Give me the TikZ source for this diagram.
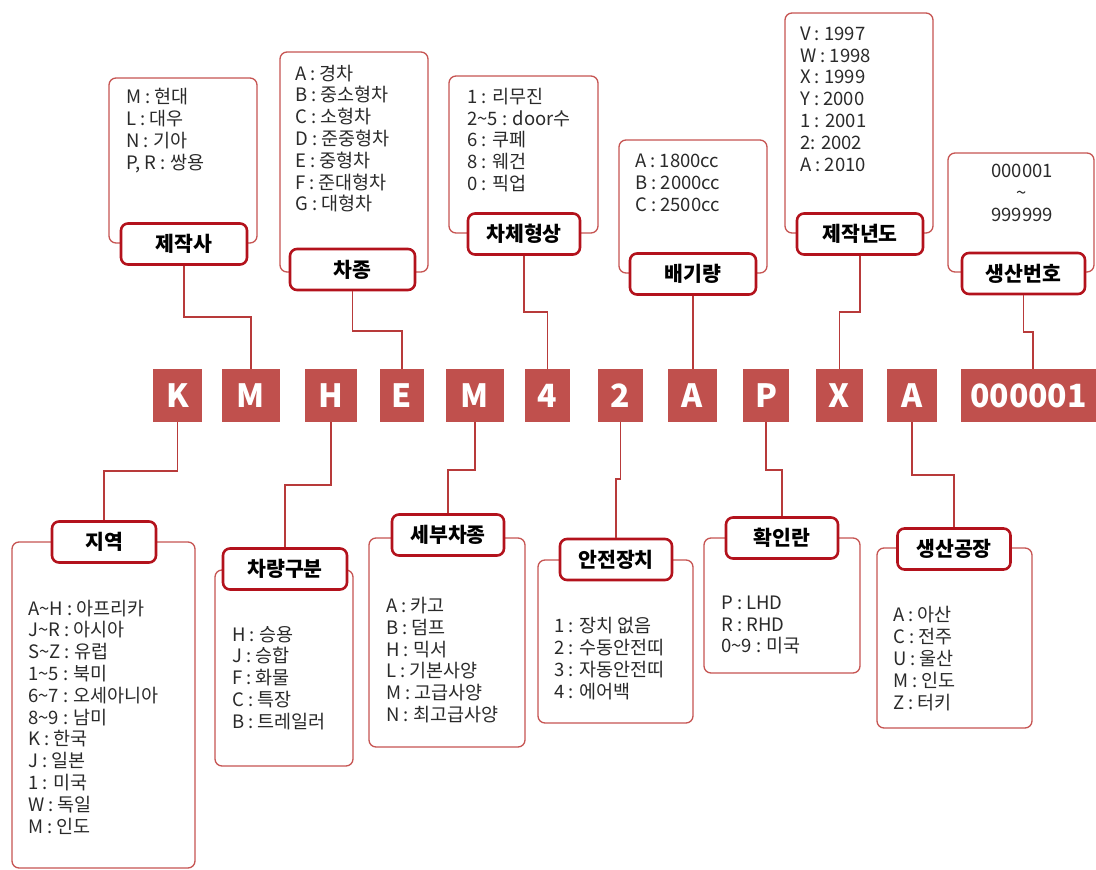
\documentclass[tikz,border=0pt]{standalone}
\usepackage{fontspec}
\setmainfont{Noto Sans CJK KR}
\definecolor{codered}{HTML}{C0504D}
\definecolor{framered}{HTML}{C65452}
\definecolor{labred}{HTML}{B3121C}
\definecolor{connred}{HTML}{B83A3A}
\definecolor{txt}{HTML}{2A2A2A}
\newcommand{\tl}{\textasciitilde}
\begin{document}
\begin{tikzpicture}[x=1pt,y=-1pt,
  code/.style={fill=codered, text=white, font=\bfseries\fontsize{32}{32}\selectfont, inner sep=0pt, minimum height=53pt},
  frame/.style={draw=framered, line width=1.3pt, rounded corners=7pt, inner sep=0pt, fill=white},
  lab/.style={draw=labred, line width=2.6pt, rounded corners=7pt, fill=white, inner sep=0pt, minimum height=41pt, text=black, font=\bfseries\fontsize{20.5}{20.5}\selectfont},
  list/.style={anchor=west, align=left, inner sep=0pt, text=txt, font=\fontsize{18.5}{21.8}\selectfont},
  conn/.style={draw=connred, line width=1.8pt}
]
\useasboundingbox (0,0) rectangle (1096,870);

% ---- top frames ----
\node[frame, minimum width=148pt, minimum height=165pt] (f1) at (183,160.5) {};
\node[frame, minimum width=148pt, minimum height=220pt] (f2) at (354,162) {};
\node[frame, minimum width=149pt, minimum height=157pt] (f3) at (523.5,154.5) {};
\node[frame, minimum width=148pt, minimum height=133pt] (f4) at (693,206.5) {};
\node[frame, minimum width=148pt, minimum height=220pt] (f5) at (859,123) {};
\node[frame, minimum width=146pt, minimum height=119pt] (f6) at (1021,212.5) {};

% ---- bottom frames ----
\node[frame, minimum width=183pt, minimum height=326pt] (g1) at (103.5,705) {};
\node[frame, minimum width=138pt, minimum height=196pt] (g2) at (284,668) {};
\node[frame, minimum width=156pt, minimum height=209pt] (g3) at (447,642.5) {};
\node[frame, minimum width=155pt, minimum height=163pt] (g4) at (615.5,641.5) {};
\node[frame, minimum width=156pt, minimum height=135pt] (g5) at (782,605.5) {};
\node[frame, minimum width=155pt, minimum height=180pt] (g6) at (954.5,638) {};

% ---- list texts (top) ----
\node[list] (t1) at (126,130.5) {M : 현대\\L : 대우\\N : 기아\\P, R : 쌍용};
\node[list] (t2) at (295,138.5) {A : 경차\\B : 중소형차\\C : 소형차\\D : 준중형차\\E : 중형차\\F : 준대형차\\G : 대형차};
\node[list] (t3) at (467,140) {1 : 리무진\\2\tl5 : door수\\6 : 쿠페\\8 : 웨건\\0 : 픽업};
\node[list] (t4) at (635,183) {A : 1800cc\\B : 2000cc\\C : 2500cc};
\node[list] (t5) at (800,99) {V : 1997\\W : 1998\\X : 1999\\Y : 2000\\1 : 2001\\2: 2002\\A : 2010};
\node[list, anchor=center, align=center] (t6) at (1022,193) {000001\\\tl\\999999};

% ---- list texts (bottom) ----
\node[list] (u1) at (28,717) {A\tl H : 아프리카\\J\tl R : 아시아\\S\tl Z : 유럽\\1\tl 5 : 북미\\6\tl 7 : 오세아니아\\8\tl 9 : 남미\\K : 한국\\J : 일본\\1 : 미국\\W : 독일\\M : 인도};
\node[list] (u2) at (232,678) {H : 승용\\J : 승합\\F : 화물\\C : 특장\\B : 트레일러};
\node[list] (u3) at (386,660) {A : 카고\\B : 덤프\\H : 믹서\\L : 기본사양\\M : 고급사양\\N : 최고급사양};
\node[list] (u4) at (554,658.5) {1 : 장치 없음\\2 : 수동안전띠\\3 : 자동안전띠\\4 : 에어백};
\node[list] (u5) at (721,625) {P : LHD\\R : RHD\\0\tl 9 : 미국};
\node[list] (u6) at (893,658.5) {A : 아산\\C : 전주\\U : 울산\\M : 인도\\Z : 터키};

% ---- code boxes ----
\node[code, minimum width=49pt] (cK) at (177.5,395.5) {K};
\node[code, minimum width=58pt] (cM1) at (251,395.5) {M};
\node[code, minimum width=52pt] (cH) at (331,395.5) {H};
\node[code, minimum width=44pt] (cE) at (402,395.5) {E};
\node[code, minimum width=58pt] (cM2) at (475,395.5) {M};
\node[code, minimum width=45pt] (c4) at (547.5,395.5) {4};
\node[code, minimum width=45pt] (c2) at (620.5,395.5) {2};
\node[code, minimum width=49pt] (cA1) at (692.5,395.5) {A};
\node[code, minimum width=46pt] (cP) at (766,395.5) {P};
\node[code, minimum width=47pt] (cX) at (839.5,395.5) {X};
\node[code, minimum width=50pt] (cA2) at (912,395.5) {A};
\node[code, minimum width=135pt] (cN) at (1028.5,395.5) {000001};

% ---- labels ----
\node[lab, minimum width=126pt] (l1) at (184,244) {제작사};
\node[lab, minimum width=125pt] (l2) at (352.5,269.5) {차종};
\node[lab, minimum width=112pt] (l3) at (524,234) {차체형상};
\node[lab, minimum width=126pt] (l4) at (693,274) {배기량};
\node[lab, minimum width=126pt] (l5) at (860,234) {제작년도};
\node[lab, minimum width=123pt] (l6) at (1023.5,273.5) {생산번호};

\node[lab, minimum width=104pt] (b1) at (104,542) {지역};
\node[lab, minimum width=124pt] (b2) at (285,569) {차량구분};
\node[lab, minimum width=112pt] (b3) at (448,535) {세부차종};
\node[lab, minimum width=112pt] (b4) at (616,559.5) {안전장치};
\node[lab, minimum width=112pt] (b5) at (782,538) {확인란};
\node[lab, minimum width=113pt] (b6) at (954,549) {생산공장};

% ---- connectors (top) ----
\draw[conn] (l1.south) -- (l1.south |- 0,317) -| (cM1.north);
\draw[conn] (l2.south) -- (l2.south |- 0,331) -| (cE.north);
\draw[conn] (l3.south) -- (l3.south |- 0,312) -| (c4.north);
\draw[conn] (l4.south) -- (l4.south |- cA1.north);
\draw[conn] (l5.south) -- (l5.south |- 0,312) -| (cX.north);
\draw[conn] (l6.south) -- (l6.south |- 0,332) -| ([xshift=4.5pt]cN.north);

% ---- connectors (bottom) ----
\draw[conn] (cK.south) -- (cK.south |- 0,471) -| (b1.north);
\draw[conn] (cH.south) -- (cH.south |- 0,485) -| (b2.north);
\draw[conn] (cM2.south) -- (cM2.south |- 0,470) -| (b3.north);
\draw[conn] (c2.south) -- (c2.south |- 0,479) -| (b4.north);
\draw[conn] (cP.south) -- (cP.south |- 0,470) -| (b5.north);
\draw[conn] (cA2.south) -- (cA2.south |- 0,475) -| (b6.north);
\end{tikzpicture}
\end{document}
